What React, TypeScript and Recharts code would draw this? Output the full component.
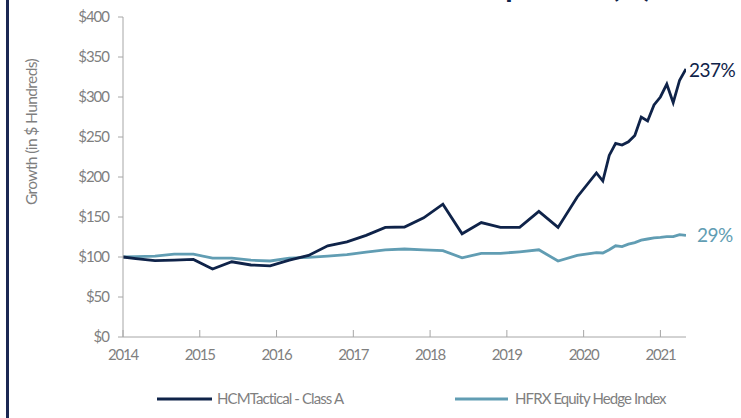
import { LineChart, Line, XAxis, YAxis } from 'recharts';

const dates = [
    '2013-12', '2014-02', '2014-05', '2014-08', '2014-11',
    '2015-02', '2015-05', '2015-08', '2015-11',
    '2016-02', '2016-05', '2016-08', '2016-11',
    '2017-02', '2017-05', '2017-08', '2017-11',
    '2018-02', '2018-05', '2018-08', '2018-11',
    '2019-02', '2019-05', '2019-08', '2019-11',
    '2020-02', '2020-03', '2020-04', '2020-05', '2020-06', '2020-07',
    '2020-08', '2020-09', '2020-10', '2020-11', '2020-12',
    '2021-01', '2021-02', '2021-03', '2021-04',
];

const hcmValues = [
    100, 98, 95.5, 96, 97,
    85, 94, 90, 89,
    96, 102, 114, 119,
    127, 137, 137.5, 149,
    166, 129, 143, 137,
    137, 157, 137, 175,
    205, 195, 227, 242, 240, 244,
    252, 275, 270, 290, 300,
    316, 293, 321, 335,
];

const hfrxValues = [
    100, 100.5, 101, 103.5, 103.5,
    98.5, 98.5, 96, 95,
    98.5, 99.5, 101, 103,
    106, 109, 110, 109,
    108, 99, 104.5, 104.5,
    106.5, 109, 95, 102,
    105.5, 105, 109, 114, 113, 116,
    118, 121, 122.5, 124, 124.5,
    125.5, 125.5, 128, 127,
];

const yearTicks = [2014, 2015, 2016, 2017, 2018, 2019, 2020, 2021];
const valueTicks = [0, 50, 100, 150, 200, 250, 300, 350, 400];
const endLabels = { hcm: '237%', hfrx: '29%' };

const NAVY = '#0f2349';
const TEAL = '#619db3';
const GREY = '#7f7f7f';
const AXIS = '#a6a6a6';
const FONT = 'Lato, "Noto Sans", sans-serif';

// month-end dates -> fractional year
const toYear = (d: string) => {
    const [y, m] = d.split('-').map(Number);
    return y + m / 12;
};

const data = dates.map((d, i) => ({
    x: toYear(d),
    hcm: hcmValues[i],
    hfrx: hfrxValues[i],
}));

const last = data.length - 1;

const XTick = (props: any) => {
    const { x, y, payload } = props;
    const axisY = y - 12;
    return (
        <g>
            <line x1={x} x2={x} y1={axisY} y2={axisY - 7} stroke={AXIS} strokeWidth={1} />
            <text x={x} y={axisY + 23} textAnchor="middle" fill={GREY} fontSize={15} fontFamily={FONT} letterSpacing={-1.2}>
                {payload.value}
            </text>
        </g>
    );
};

const endLabel = (text: string, color: string, dx: number, dy: number) => (props: any) => {
    const { x, y, index } = props;
    if (index !== last) return null;
    return (
        <text x={x + dx} y={y + dy} fill={color} fontSize={19} fontFamily={FONT} letterSpacing={-0.5}>
            {text}
        </text>
    );
};

const App = () => {
    return (
        <div style={{ position: 'absolute', left: 0, top: 0, width: 741, height: 418, overflow: 'hidden', background: '#fff', fontFamily: FONT }}>
            <LineChart width={741} height={418} data={data} margin={{ top: 17, right: 55, bottom: 51, left: 0 }}>
                <XAxis
                    dataKey="x"
                    type="number"
                    domain={[2014, toYear(dates[last])]}
                    ticks={yearTicks}
                    allowDataOverflow
                    height={30}
                    tickSize={0}
                    tickMargin={12}
                    tickLine={false}
                    axisLine={{ stroke: AXIS }}
                    tick={<XTick />}
                />
                <YAxis
                    type="number"
                    domain={[0, 400]}
                    ticks={valueTicks}
                    width={123}
                    tickSize={5}
                    tickMargin={9}
                    tickLine={{ stroke: AXIS }}
                    axisLine={{ stroke: AXIS }}
                    tickFormatter={(v) => `$${v}`}
                    tick={{ fill: GREY, fontSize: 15, fontFamily: FONT, letterSpacing: -1 }}
                />
                <Line
                    dataKey="hfrx"
                    stroke={TEAL}
                    strokeWidth={2.8}
                    dot={false}
                    isAnimationActive={false}
                    label={endLabel(endLabels.hfrx, TEAL, 11, 7)}
                />
                <Line
                    dataKey="hcm"
                    stroke={NAVY}
                    strokeWidth={2.8}
                    dot={false}
                    isAnimationActive={false}
                    label={endLabel(endLabels.hcm, NAVY, 3, 8)}
                />
            </LineChart>

            <svg width={741} height={418} style={{ position: 'absolute', left: 0, top: 0, pointerEvents: 'none' }}>
                <rect x={6} y={0} width={3} height={418} fill="#1b2853" />
                {/* slide title sits above the frame, only its descenders show */}
                <text x={652} y={-3} textAnchor="end" fill={NAVY} fontSize={30} fontWeight={700} fontFamily={FONT}>
                    Performance Comparison (%)
                </text>
                <text
                    transform="translate(37,132) rotate(-90)"
                    textAnchor="middle"
                    fill={GREY}
                    fontSize={15.5}
                    fontFamily={FONT}
                    letterSpacing={-0.6}
                >
                    Growth (in $ Hundreds)
                </text>
                <line x1={157} x2={212} y1={399} y2={399} stroke={NAVY} strokeWidth={3} />
                <text x={217} y={404} fill={GREY} fontSize={15} fontFamily={FONT} letterSpacing={-0.9}>
                    HCMTactical - Class A
                </text>
                <line x1={455} x2={508} y1={399} y2={399} stroke={TEAL} strokeWidth={3} />
                <text x={515} y={404} fill={GREY} fontSize={15} fontFamily={FONT} letterSpacing={-0.9}>
                    HFRX Equity Hedge Index
                </text>
            </svg>
        </div>
    );
};

export default App;
